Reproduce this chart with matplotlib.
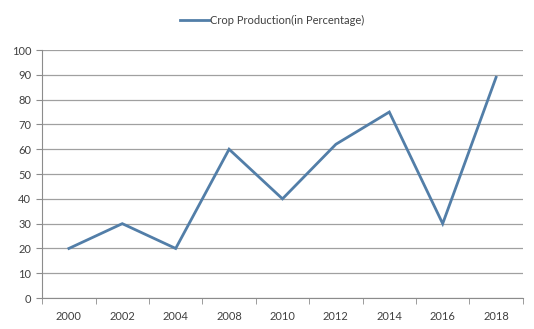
import matplotlib.pyplot as plt
import numpy as np

years = ['2000', '2002', '2004', '2008', '2010', '2012', '2014', '2016', '2018']
production = [20, 30, 20, 60, 40, 62, 75, 30, 89]

plt.rcParams['font.family'] = ['Lato', 'DejaVu Sans']

fig = plt.figure(figsize=(5.34, 3.29), dpi=100)
ax = fig.add_axes([0.079, 0.094, 0.900, 0.754])

x = np.arange(len(years))
ax.plot(x, production, color='#527ea8', lw=2.0, solid_joinstyle='miter',
        label='Crop Production(in Percentage)')

ax.set_xlim(-0.5, len(years) - 0.5)
ax.set_ylim(0, 100)
ax.set_yticks(range(0, 101, 10))
ax.set_xticks(x)
ax.set_xticklabels(years)
# tick marks sit between the categories
ax.set_xticks(np.arange(-0.5, len(years), 1.0), minor=True)
ax.tick_params(axis='x', which='major', length=0, pad=9)
ax.tick_params(axis='x', which='minor', length=4, color='#8c8c8c', direction='out')
ax.tick_params(axis='y', length=4, color='#8c8c8c', pad=4)
ax.tick_params(labelsize=8, labelcolor='#404040')

ax.grid(axis='y', color='#a0a0a0', lw=0.9)
ax.set_axisbelow(True)
for side in ['top', 'right']:
    ax.spines[side].set_visible(False)
ax.spines['left'].set_color('#8c8c8c')
ax.spines['bottom'].set_color('#8c8c8c')

fig.legend(loc='upper center', bbox_to_anchor=(0.51, 0.985), frameon=False,
           fontsize=8, handlelength=2.6, handletextpad=0.1, labelcolor='#404040')

fig.savefig('out.png', dpi=100)
